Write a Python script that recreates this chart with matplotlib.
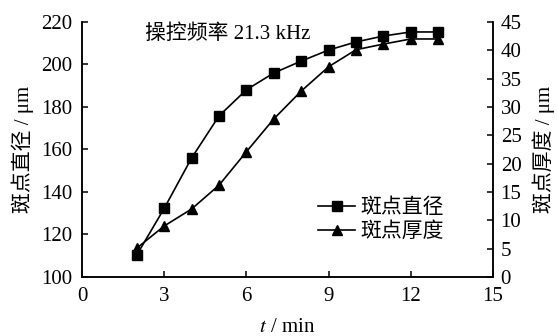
import matplotlib
matplotlib.use("Agg")
import matplotlib.pyplot as plt

# data
t_min = [2, 3, 4, 5, 6, 7, 8, 9, 10, 11, 12, 13]
spot_diameter = [110.4, 132.3, 156, 175.8, 188.1, 196, 201.6, 206.8, 210.6, 213.4, 215.3, 215.3]
spot_thickness = [5.1, 9.0, 12.0, 16.2, 22.1, 27.9, 32.8, 37.1, 40.1, 41.1, 42.0, 42.0]

x_ticks = [0, 3, 6, 9, 12, 15]
left_ticks = [100, 120, 140, 160, 180, 200, 220]
right_ticks = [0, 5, 10, 15, 20, 25, 30, 35, 40, 45]

plt.rcParams['font.family'] = ['Liberation Serif', 'Noto Sans CJK SC']
plt.rcParams['mathtext.fontset'] = 'stix'
plt.rcParams['font.size'] = 15

fig = plt.figure(figsize=(5.58, 3.36), dpi=100)
ax = fig.add_axes([0.147, 0.1756, 0.7365, 0.759])
ax2 = ax.twinx()

l1, = ax.plot(t_min, spot_diameter, color='black', lw=1.2, marker='s', ms=6.5,
              label='斑点直径')
l2, = ax2.plot(t_min, spot_thickness, color='black', lw=1.2, marker='^', ms=6.5,
               label='斑点厚度')

ax.set_xlim(0, 15)
ax.set_ylim(100, 220)
ax2.set_ylim(0, 45)
ax.set_xticks(x_ticks)
ax.set_yticks(left_ticks)
ax2.set_yticks(right_ticks)

for a in (ax, ax2):
    a.spines['top'].set_visible(False)
    for s in a.spines.values():
        s.set_linewidth(1.1)
ax.tick_params(axis='x', direction='in', length=4, width=1.1, pad=7)
ax.tick_params(axis='y', direction='in', length=4, width=1.1, pad=7)
ax2.tick_params(direction='in', length=4, width=1.1, pad=5.5)

ax.set_xlabel('$t$ / min', labelpad=9)
ax.set_ylabel('斑点直径 / μm', labelpad=5)
ax2.set_ylabel('斑点厚度 / μm', labelpad=8)

ax.text(0.153, 0.99, '操控频率 21.3 kHz', transform=ax.transAxes, va='top', ha='left')

ax.legend(handles=[l1, l2], loc='center left', bbox_to_anchor=(0.574, 0.222),
          frameon=False, handlelength=1.8, handletextpad=0.25, labelspacing=0.2,
          borderpad=0, borderaxespad=0)

fig.savefig('out.png', dpi=100)
